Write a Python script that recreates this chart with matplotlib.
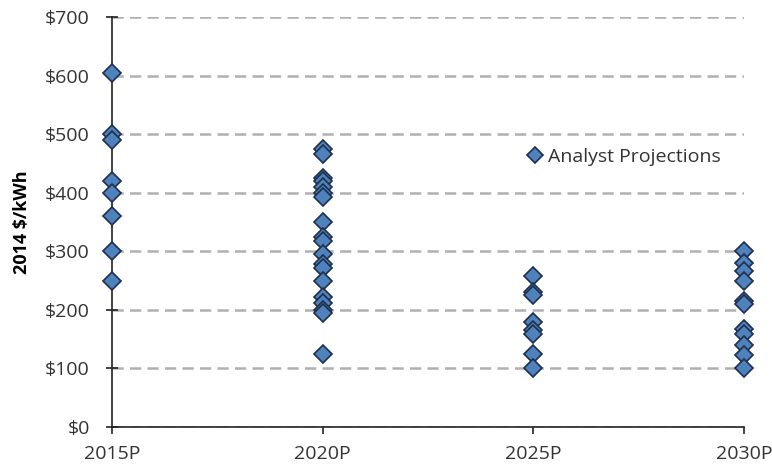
import numpy as np
import matplotlib.pyplot as plt
from matplotlib.ticker import FuncFormatter

years = ['2015P', '2020P', '2025P', '2030P']
p2015 = [605, 500, 490, 420, 400, 360, 300, 250]
p2020 = [475, 467, 425, 420, 410, 400, 392, 350, 325, 318, 295, 278, 272, 250, 222, 212, 200, 195, 125]
p2025 = [258, 230, 225, 180, 165, 158, 125, 100]
p2030 = [300, 280, 267, 250, 215, 210, 167, 158, 140, 123, 100]
projections = [p2015, p2020, p2025, p2030]

plt.rcParams['font.family'] = ['Open Sans', 'DejaVu Sans']

fig = plt.figure(figsize=(7.72, 4.69), dpi=100)
ax = fig.add_axes([0.145, 0.0896, 0.819, 0.874])

xs = np.concatenate([[i] * len(v) for i, v in enumerate(projections)])
ys = np.concatenate(projections)
ax.plot(xs, ys, linestyle='none', marker='D', markersize=9,
        markerfacecolor='#4F81BD', markeredgecolor='#1C2F4A', markeredgewidth=1.2,
        clip_on=False, zorder=3, label='Analyst Projections')

ax.set_xlim(0, 3)
ax.set_ylim(0, 700)
ax.set_xticks(range(len(years)))
ax.set_xticklabels(years)
ax.set_yticks(range(0, 701, 100))
ax.yaxis.set_major_formatter(FuncFormatter(lambda v, p: '${:.0f}'.format(v)))
ax.tick_params(axis='both', labelsize=14, labelcolor='#333333', color='#222222', length=5, width=1.2)
ax.tick_params(axis='y', direction='inout', length=8, pad=12)
ax.tick_params(axis='x', direction='out', pad=8)

ax.yaxis.grid(True, color='#B0B0B0', linestyle=(0, (4.5, 2.5)), linewidth=1.8)
ax.set_axisbelow(True)
for s in ['top', 'right']:
    ax.spines[s].set_visible(False)
for s in ['left', 'bottom']:
    ax.spines[s].set_linewidth(1.2)
    ax.spines[s].set_color('#222222')

ax.set_ylabel('2014 $/kWh', fontsize=13, fontweight='bold', labelpad=10)

ax.legend(loc='center left', bbox_to_anchor=(0.61, 0.659), frameon=False,
          fontsize=14, handletextpad=-0.3, markerscale=0.85, labelcolor='#333333')

fig.savefig('out.png', dpi=100)
